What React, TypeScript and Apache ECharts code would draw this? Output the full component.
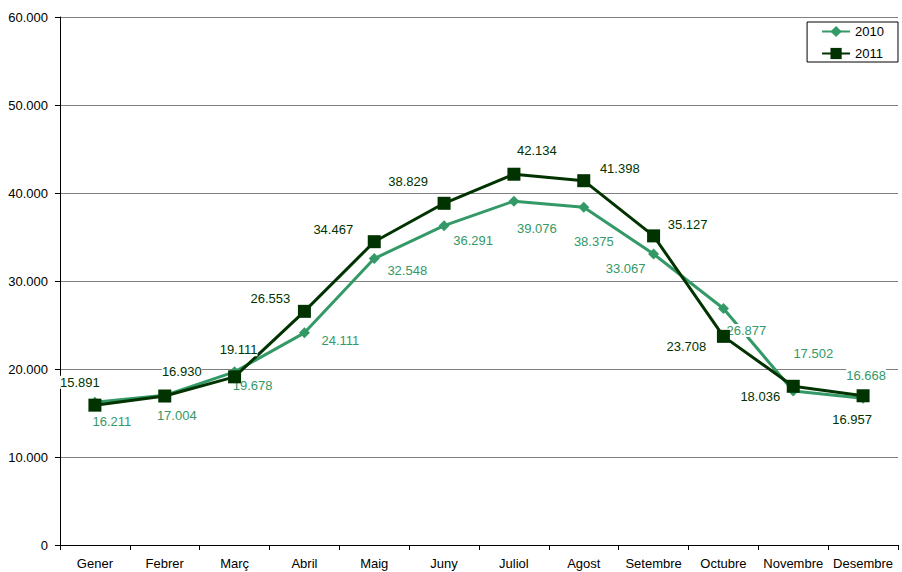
import React, { useEffect, useRef } from "react";
import * as echarts from "echarts";

const months = ["Gener", "Febrer", "Març", "Abril", "Maig", "Juny", "Juliol", "Agost", "Setembre", "Octubre", "Novembre", "Desembre"];
const values2010 = [16211, 17004, 19678, 24111, 32548, 36291, 39076, 38375, 33067, 26877, 17502, 16668];
const values2011 = [15891, 16930, 19111, 26553, 34467, 38829, 42134, 41398, 35127, 23708, 18036, 16957];
const offsets2010: [number, number][] = [[17, 19], [12, 20], [18, 14], [36, 8], [33, 12], [29, 15], [23, 27], [10, 34], [-28, 14], [23, 22], [20, -37], [3, -23]];
const offsets2011: [number, number][] = [[-15, -23], [17, -25], [4, -27], [-34, -13], [-41, -12], [-36, -22], [23, -24], [36, -12], [34, -11], [-37, 10], [-33, 10], [-11, 24]];

const C2010 = "#339966";
const C2011 = "#003300";
const FONT = "Liberation Sans, Arial, sans-serif";

const fmt = (v: number) => {
  const s = Math.round(v).toString();
  return s.replace(/\B(?=(\d{3})+(?!\d))/g, ".");
};

function build(values: number[], offs: [number, number][], color: string) {
  return values.map((v, i) => ({
    value: v,
    label: {
      show: true,
      position: "inside",
      offset: offs[i],
      color,
      fontSize: 13,
      fontFamily: FONT,
      backgroundColor: "#ffffff",
      formatter: () => fmt(v),
    },
  }));
}

export default function App() {
  const ref = useRef<HTMLDivElement>(null);
  useEffect(() => {
    if (!ref.current) return;
    const chart = echarts.init(ref.current, null, { renderer: "svg" });
    chart.setOption({
      animation: false,
      backgroundColor: "#ffffff",
      textStyle: { fontFamily: FONT },
      grid: { left: 60, right: 4, top: 17, bottom: 27, containLabel: false },
      legend: {
        orient: "vertical",
        right: 4,
        top: 22,
        borderColor: "#000000",
        borderWidth: 1,
        borderRadius: 0,
        padding: [3, 14, 2, 14],
        itemGap: 9,
        itemWidth: 28,
        itemHeight: 14,
        textStyle: { fontSize: 13, color: "#000000", fontFamily: FONT },
        data: ["2010", "2011"],
      },
      xAxis: {
        type: "category",
        data: months,
        boundaryGap: true,
        axisLine: { lineStyle: { color: "#000000", width: 1 } },
        axisTick: { show: true, alignWithLabel: false, length: 5, lineStyle: { color: "#000000" } },
        axisLabel: { color: "#000000", fontSize: 13, fontFamily: FONT, margin: 12, interval: 0 },
      },
      yAxis: {
        type: "value",
        min: 0,
        max: 60000,
        interval: 10000,
        axisLine: { show: true, lineStyle: { color: "#000000", width: 1 } },
        axisTick: { show: true, length: 5, lineStyle: { color: "#000000" } },
        axisLabel: { color: "#000000", fontSize: 13, fontFamily: FONT, margin: 12, formatter: (v: number) => fmt(v) },
        splitLine: { show: true, lineStyle: { color: "#808080", width: 1 } },
      },
      series: [
        {
          name: "2010",
          type: "line",
          data: build(values2010, offsets2010, C2010),
          symbol: "diamond",
          symbolSize: 11,
          itemStyle: { color: C2010 },
          lineStyle: { color: C2010, width: 3 },
          z: 2,
        },
        {
          name: "2011",
          type: "line",
          data: build(values2011, offsets2011, C2011),
          symbol: "rect",
          symbolSize: 13,
          itemStyle: { color: C2011 },
          lineStyle: { color: C2011, width: 3 },
          z: 3,
        },
      ],
    });
    return () => chart.dispose();
  }, []);
  return (
    <div
      ref={ref}
      style={{ position: "fixed", left: 0, top: 0, width: 902, height: 572, background: "#fff" }}
    />
  );
}
